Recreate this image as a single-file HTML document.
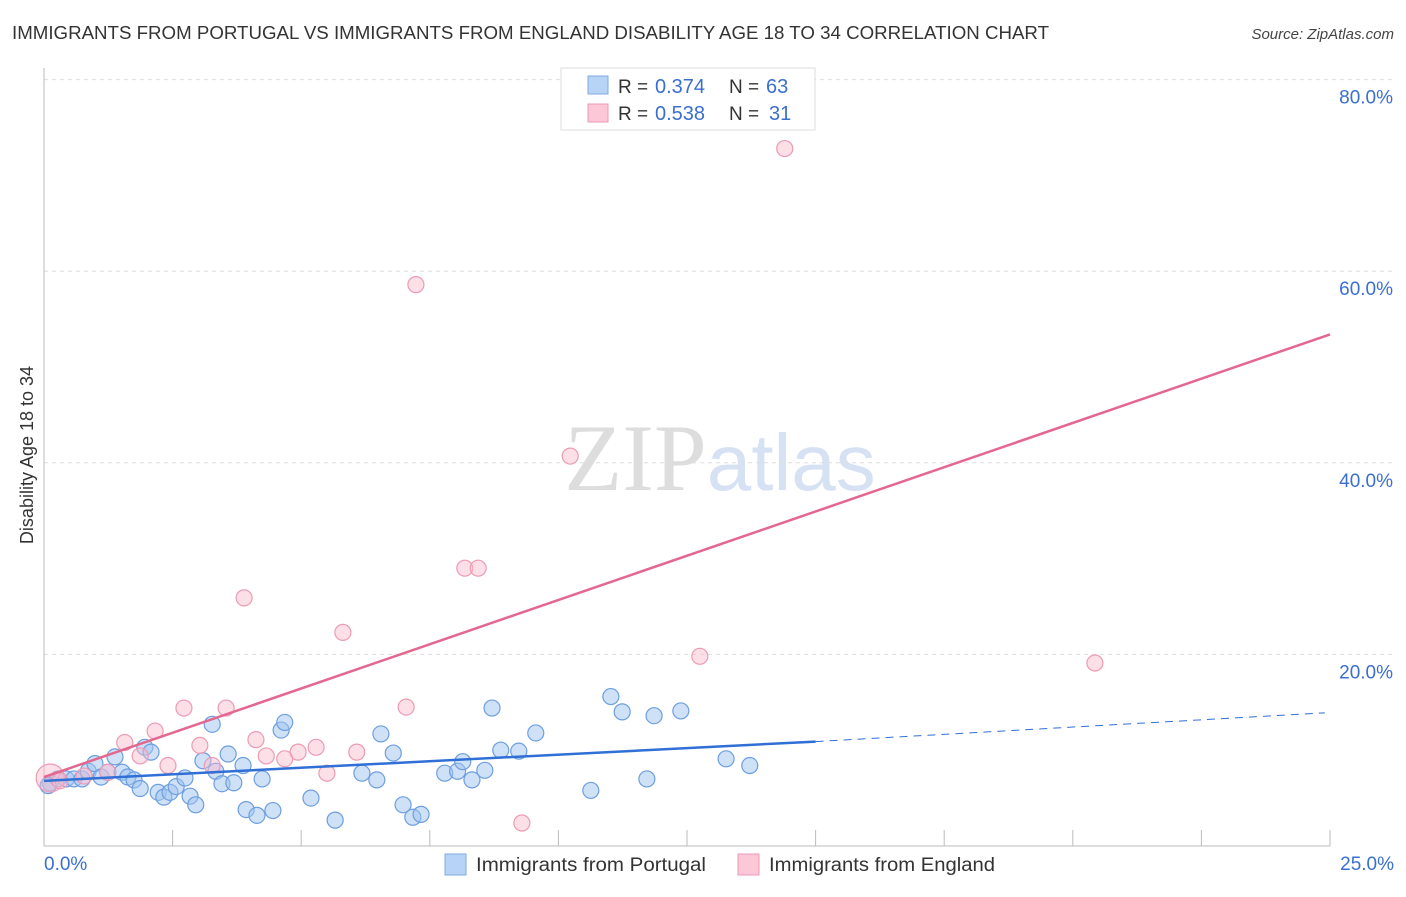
<!DOCTYPE html>
<html><head><meta charset="utf-8">
<style>
body{margin:0;background:#fff;font-family:"Liberation Sans",sans-serif;}
svg text{font-family:"Liberation Sans",sans-serif;}
</style></head>
<body>
<svg id="chart" width="1406" height="892" xmlns="http://www.w3.org/2000/svg">
<text x="12" y="39" font-size="18" fill="#333" textLength="1037" lengthAdjust="spacingAndGlyphs">IMMIGRANTS FROM PORTUGAL VS IMMIGRANTS FROM ENGLAND DISABILITY AGE 18 TO 34 CORRELATION CHART</text>
<text x="1394" y="39" font-size="15" fill="#444" text-anchor="end" font-style="italic">Source: ZipAtlas.com</text>
<text x="720" y="490" font-size="95" text-anchor="middle"><tspan fill="#ddd" font-family="Liberation Serif">ZIP</tspan><tspan fill="#d6e2f3" font-size="80">atlas</tspan></text>
<text transform="translate(33,455) rotate(-90)" font-size="18" fill="#333" text-anchor="middle">Disability Age 18 to 34</text>
<g id="grid"></g>
<g id="marks"></g>
<g>
<rect x="561" y="68" width="254" height="62" fill="#fff" stroke="#ddd"/>
<rect x="588" y="76" width="20" height="18" fill="#b7d3f5" stroke="#7fa9e0"/>
<rect x="588" y="104" width="20" height="18" fill="#fcc7d7" stroke="#eb9ab4"/>
<text x="618" y="93" font-size="19" fill="#333">R =</text>
<text x="655" y="93" font-size="20" fill="#3a6fd0">0.374</text>
<text x="729" y="93" font-size="19" fill="#333">N =</text>
<text x="766" y="93" font-size="20" fill="#3a6fd0">63</text>
<text x="618" y="120" font-size="19" fill="#333">R =</text>
<text x="655" y="120" font-size="20" fill="#3a6fd0">0.538</text>
<text x="729" y="120" font-size="19" fill="#333">N =</text>
<text x="769" y="120" font-size="20" fill="#3a6fd0">31</text>
</g>
<g>
<rect x="445" y="854" width="21" height="21" fill="#b7d3f5" stroke="#7fa9e0"/>
<text x="476" y="871" font-size="19" fill="#333" textLength="230" lengthAdjust="spacingAndGlyphs">Immigrants from Portugal</text>
<rect x="738" y="854" width="21" height="21" fill="#fcc7d7" stroke="#eb9ab4"/>
<text x="769" y="871" font-size="19" fill="#333" textLength="226" lengthAdjust="spacingAndGlyphs">Immigrants from England</text>
</g>
</svg>
<script>
const xTicks=[0,2.5,5,7.5,10,12.5,15,17.5,20,22.5,25];
const yTicks=[20,40,60,80];
const yTickLabels=["20.0%","40.0%","60.0%","80.0%"];
const portugalX=[0.12,0.27,0.43,0.58,0.74,0.86,0.99,1.11,1.24,1.38,1.52,1.63,1.75,1.87,1.96,2.08,2.22,2.33,2.45,2.57,2.74,2.84,2.95,3.09,3.27,3.34,3.46,3.58,3.69,3.87,3.93,4.14,4.24,4.45,4.61,4.68,5.19,5.66,6.18,6.47,6.55,6.79,6.98,7.17,7.33,7.79,8.04,8.14,8.32,8.57,8.71,8.88,9.23,9.56,10.63,11.02,11.24,11.86,11.72,12.38,13.26,13.72,0.08];
const portugalY=[6.6,7.0,7.0,7.0,7.0,7.8,8.6,7.2,7.7,9.3,7.7,7.2,6.9,6.0,10.3,9.8,5.6,5.1,5.6,6.2,7.1,5.2,4.3,8.9,12.7,7.8,6.5,9.6,6.6,8.4,3.8,3.2,7.0,3.7,12.1,12.9,5.0,2.7,7.6,6.9,11.7,9.7,4.3,3.0,3.3,7.6,7.8,8.8,6.9,7.9,14.4,10.0,9.9,11.8,5.8,15.6,14.0,13.6,7.0,14.1,9.1,8.4,6.3];
const englandX=[0.12,0.31,0.78,1.24,1.57,1.87,2.16,2.41,2.72,3.03,3.27,3.54,3.89,4.12,4.32,4.68,4.94,5.29,5.50,5.81,6.08,7.04,7.23,8.18,8.44,9.29,10.23,12.75,14.40,20.43];
const englandY=[7.1,6.8,7.3,7.7,10.8,9.4,12.0,8.4,14.4,10.5,8.4,14.4,25.9,11.1,9.4,9.1,9.8,10.3,7.6,22.3,9.8,14.5,58.6,29.0,29.0,2.4,40.7,19.8,72.8,19.1];
const portugalFit=[0.0,6.8,15.0,10.9,24.9,13.9];
const englandFit=[0.0,7.2,25.0,53.4];
const sx=v=>44+v*51.44, sy=v=>846-v*9.58;
const NS="http://www.w3.org/2000/svg";
function mk(p,t,a){const e=document.createElementNS(NS,t);for(const k in a)e.setAttribute(k,a[k]);p.appendChild(e);return e;}
const grid=document.getElementById('grid'),marks=document.getElementById('marks');
yTicks.forEach((v,i)=>{
 const l=mk(grid,'line',{x1:44,x2:1394,y1:sy(v),y2:sy(v),stroke:'#ddd','stroke-dasharray':'4 4'});
 
 
 const t=mk(grid,'text',{x:1393,y:sy(v)+24,'font-size':19,fill:'#3a6fd0','text-anchor':'end'});
 t.textContent=yTickLabels[i];
 
 
});
const ax=mk(grid,'line',{x1:44,x2:1330,y1:846,y2:846,stroke:'#bbb'});


const ay=mk(grid,'line',{x1:44,x2:44,y1:68,y2:846,stroke:'#bbb'});


xTicks.forEach(v=>{const l=mk(grid,'line',{x1:sx(v),x2:sx(v),y1:830,y2:846,stroke:'#bbb'});
 
 });
[[0,'0.0%','start',44],[25,'25.0%','end',1394]].forEach(d=>{const t=mk(grid,'text',{x:d[3],y:870,'font-size':19,fill:'#3a6fd0','text-anchor':d[2]});t.textContent=d[1];
 
 });
portugalX.forEach((x,i)=>{const c=mk(marks,'circle',{cx:sx(x),cy:sy(portugalY[i]),r:8,fill:'rgba(160,196,240,0.5)',stroke:'#6d9ee0','stroke-width':1.2});
 
 });
englandX.forEach((x,i)=>{const c=mk(marks,'circle',{cx:sx(x),cy:sy(englandY[i]),r:i==0?14:8,fill:'rgba(250,185,205,0.45)',stroke:'#ec9bb5','stroke-width':1.2});
 
 });
const pl=mk(marks,'line',{x1:sx(portugalFit[0]),y1:sy(portugalFit[1]),x2:sx(portugalFit[2]),y2:sy(portugalFit[3]),stroke:'#2f6fd6','stroke-width':2.5});


const pd=mk(marks,'line',{x1:sx(portugalFit[2]),y1:sy(portugalFit[3]),x2:sx(portugalFit[4]),y2:sy(portugalFit[5]),stroke:'#2f6fd6','stroke-width':1,'stroke-dasharray':'8 6'});


const el=mk(marks,'line',{x1:sx(englandFit[0]),y1:sy(englandFit[1]),x2:sx(englandFit[2]),y2:sy(englandFit[3]),stroke:'#e4678f','stroke-width':2.5});


</script>
</body></html>
